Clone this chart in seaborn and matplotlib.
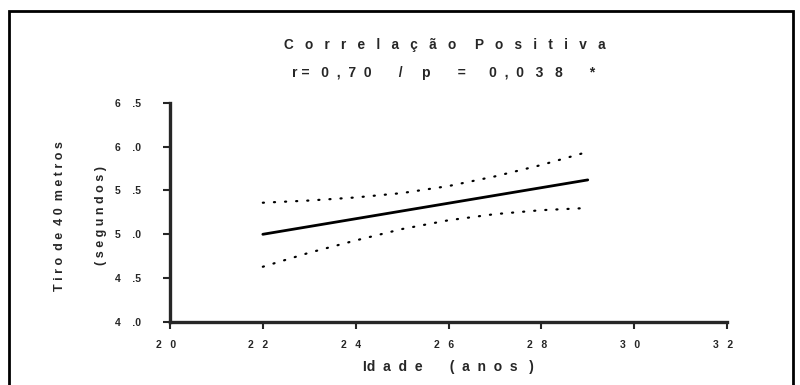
import matplotlib
matplotlib.use("Agg")
import matplotlib.pyplot as plt
import matplotlib.patches as mpatches
import seaborn as sns
import pandas as pd

# Data
fit_x = [22, 29]
fit_y = [5.00, 5.62]
ci_x = [22, 23, 24, 25, 26, 27, 28, 29]
ci_upper = [5.36, 5.385, 5.42, 5.47, 5.55, 5.66, 5.79, 5.94]
ci_lower = [4.63, 4.79, 4.93, 5.06, 5.16, 5.23, 5.275, 5.30]
x_ticks = [20, 22, 24, 26, 28, 30, 32]
y_ticks = [4.0, 4.5, 5.0, 5.5, 6.0, 6.5]
x_tick_labels = ["2   0   ", "2   2   ", "2   4   ", "2   6   ", "2   8   ", "3   0   ", "3   2   "]
y_tick_labels = ["4    .0", "4    .5", "5    .0", "5    .5", "6    .0", "6    .5"]
title1 = "C   o   r   r   e   l   a   ç   ã   o     P   o   s   i   t   i   v   a"
title2 = "r =   0  ,  7  0       /     p       =      0  ,  0   3   8       *"
xlabel = "Id  a  d  e       (  a  n  o  s   )"
ylabel = "T i r o  d e  4 0  m e t r o s\n( s e g u n d o s )"

sns.set_style("ticks")
plt.rcParams['font.family'] = ['Liberation Sans', 'DejaVu Sans']

fig = plt.figure(figsize=(8, 3.85), dpi=100)
ax = fig.add_axes([0.2125, 0.1636, 0.69625, 0.5696])

df_fit = pd.DataFrame({"x": fit_x, "y": fit_y})
df_up = pd.DataFrame({"x": ci_x, "y": ci_upper})
df_lo = pd.DataFrame({"x": ci_x, "y": ci_lower})

sns.lineplot(data=df_fit, x="x", y="y", ax=ax, color="black", linewidth=2, estimator=None)
for d in (df_up, df_lo):
    sns.lineplot(data=d, x="x", y="y", ax=ax, color="black", linewidth=1.6,
                 estimator=None, linestyle=(0, (0.5, 4.5)), dash_capstyle="round")

ax.set_xlim(20, 32)
ax.set_ylim(4.0, 6.5)
ax.set_xticks(x_ticks)
ax.set_xticklabels(x_tick_labels)
ax.set_yticks(y_ticks)
ax.set_yticklabels(y_tick_labels)
for lab in ax.get_xticklabels() + ax.get_yticklabels():
    lab.set_fontweight("bold")
    lab.set_fontsize(7.5)
ax.tick_params(axis="both", direction="out", length=4.8, width=1.5)
ax.tick_params(axis="x", pad=8)
ax.tick_params(axis="y", pad=16)
for s in ("left", "bottom"):
    ax.spines[s].set_linewidth(2.4)
for s in ("top", "right"):
    ax.spines[s].set_visible(False)

ax.set_xlabel(xlabel, fontsize=10, fontweight="bold", labelpad=7)
ax.set_ylabel(ylabel, fontsize=9, fontweight="bold", linespacing=4.2)
ax.yaxis.set_label_coords(-0.113, 0.485)

fig.text(0.5555, 1 - 49 / 385, title1, ha="center", va="baseline", fontsize=9.8, fontweight="bold")
fig.text(0.5544, 1 - 77.3 / 385, title2, ha="center", va="baseline", fontsize=10, fontweight="bold")

rect = mpatches.Rectangle((0.011, -0.05), 0.98, 1.021, transform=fig.transFigure,
                          fill=False, edgecolor="black", linewidth=2)
fig.patches.append(rect)

fig.savefig("out.png", dpi=100)
